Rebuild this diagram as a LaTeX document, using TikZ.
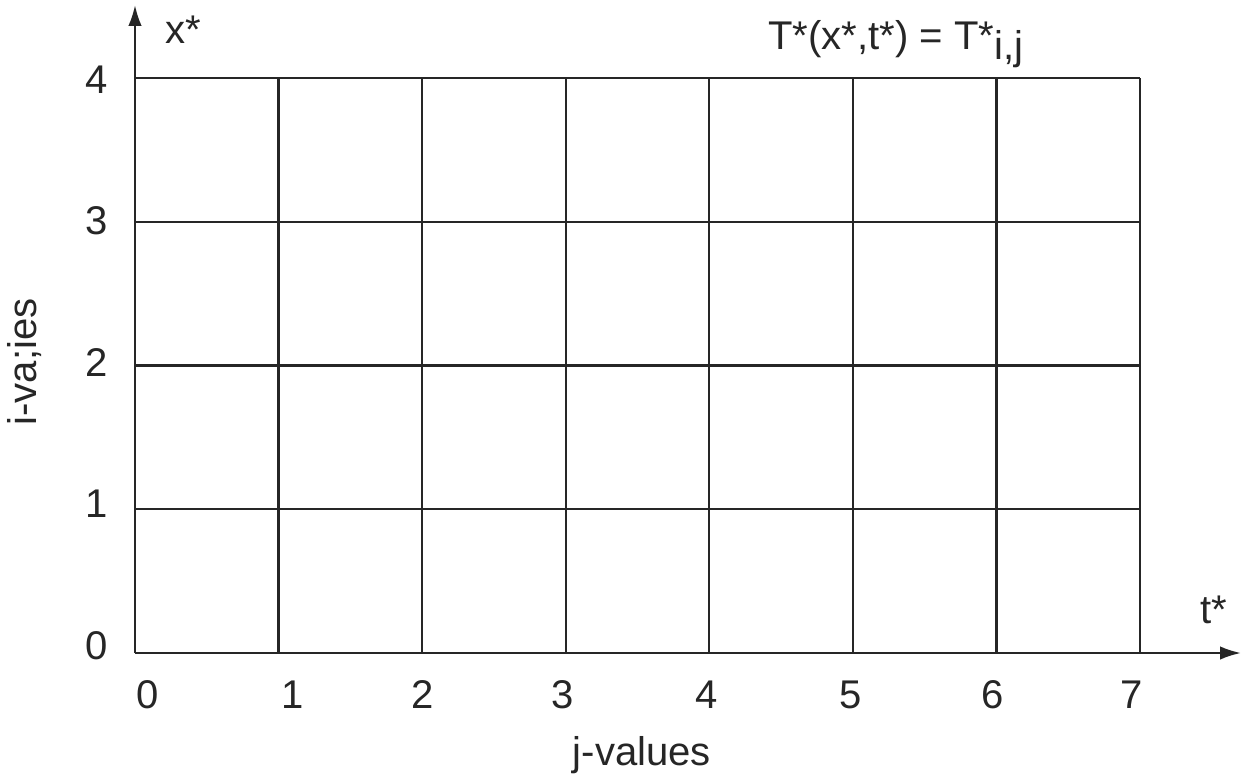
\documentclass[tikz,border=0pt]{standalone}
\usepackage{fontspec}
\setmainfont{Liberation Sans}
\usetikzlibrary{arrows.meta}
\begin{document}
\begin{tikzpicture}[x=0.02cm,y=-0.02cm,
  gridline/.style={line width=1.3pt,black!85},
  axisline/.style={line width=1.3pt,black!85,-{Latex[length=0.42cm,width=0.27cm]}},
  lbl/.style={inner sep=0pt,font=\fontsize{22.8}{27}\selectfont,text=black!85}]
\useasboundingbox (0,0) rectangle (1247,774);
% grid
\foreach \j in {1,...,7} {
  \draw[gridline] ({135+143.57*\j},653) -- ({135+143.57*\j},78);
}
\foreach \i in {1,...,4} {
  \draw[gridline] (135,{653-143.75*\i}) -- (1140,{653-143.75*\i});
}
% axes
\coordinate (O) at (135,653);
\coordinate (ytip) at (135,5);
\coordinate (xtip) at (1241,653);
\draw[axisline] (O) -- (ytip);
\draw[axisline] (O) -- (xtip);
% y tick labels
\node[lbl,anchor=base] (y0) at (97,659) {0};
\node[lbl,anchor=base] (y1) at (97,517) {1};
\node[lbl,anchor=base] (y2) at (97,376) {2};
\node[lbl,anchor=base] (y3) at (97,234) {3};
\node[lbl,anchor=base] (y4) at (97,93) {4};
% x tick labels
\node[lbl,anchor=base] (x0) at (148,708) {0};
\node[lbl,anchor=base] (x1) at (293,708) {1};
\node[lbl,anchor=base] (x2) at (423,708) {2};
\node[lbl,anchor=base] (x3) at (563,708) {3};
\node[lbl,anchor=base] (x4) at (707,708) {4};
\node[lbl,anchor=base] (x5) at (851,708) {5};
\node[lbl,anchor=base] (x6) at (993,708) {6};
\node[lbl,anchor=base] (x7) at (1132,708) {7};
% axis titles
\node[lbl,anchor=base] (jval) at (642,765) {j-values};
\node[lbl,rotate=90] (ival) at (25,362) {i-va;ies};
\node[lbl,anchor=base west] (xs) at (165,43) {x*};
\node[lbl,anchor=base west] (eq) at (768,50) {T*(x*,t*) = T*\raisebox{-0.2cm}{i,j}};
\node[lbl,anchor=base west] (ts) at (1200,623) {t*};
\end{tikzpicture}
\end{document}
